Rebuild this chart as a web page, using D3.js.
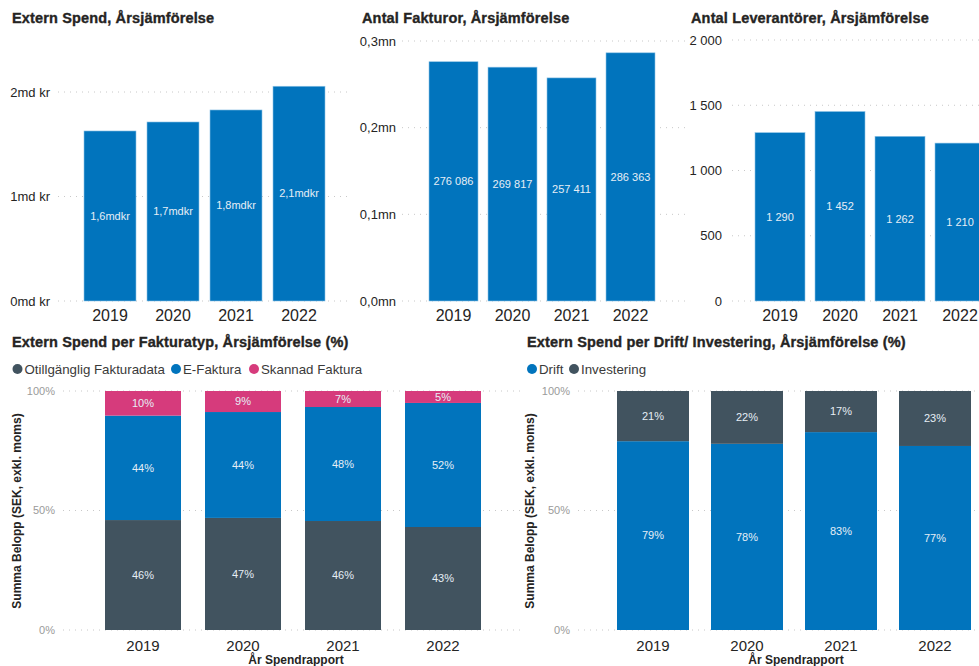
<!DOCTYPE html>
<html><head><meta charset="utf-8">
<script src="https://cdn.jsdelivr.net/npm/d3@7"></script>
<style>
body{margin:0;background:#fff;}
svg{display:block;font-family:"Liberation Sans",Arial,sans-serif;}
</style></head>
<body><svg id="c" width="979" height="666"></svg>
<script>
const years = ["2019","2020","2021","2022"];
const spendMd = [1.627, 1.713, 1.828, 2.055];
const spendTicks = [0, 1, 2];
const invoices = [276086, 269817, 257411, 286363];
const invoiceTicks = [0, 100000, 200000, 300000];
const suppliers = [1290, 1452, 1262, 1210];
const supplierTicks = [0, 500, 1000, 1500, 2000];
const invTypeNames = ["Otillgänglig Fakturadata","E-Faktura","Skannad Faktura"];
const invOtill = [46.0, 46.9, 45.6, 43.1];
const invE = [43.7, 44.3, 47.7, 51.9];
const invSkann = [10.3, 8.8, 6.7, 5.0];
const driftNames = ["Drift","Investering"];
const drift = [79.0, 77.9, 82.8, 77.0];
const invest = [21.0, 22.1, 17.2, 23.0];
const pctTicks = [0, 50, 100];

const BLUE="#0174BD", PINK="#D63B7C", SLATE="#41535F", TXT="#252423";
const loc = d3.formatLocale({decimal:",", thousands:"\u00a0", grouping:[3], currency:["","kr"]});
const fmtInt = loc.format(",d");
const fmt1 = loc.format(".1f");

const svg = d3.select("#c");

function title(x,y,t){
  svg.append("text").attr("x",x).attr("y",y).text(t)
    .attr("font-size",14.5).attr("font-weight","bold").attr("fill",TXT)
    .attr("stroke",TXT).attr("stroke-width",0.35)
    .attr("font-family","'Liberation Sans', Arial, sans-serif").style("letter-spacing","0.15px");
}
function grid(y, ticks, x0, x1, labX, fmt, col, fs){
  const g = svg.append("g");
  ticks.forEach(t=>{
    g.append("line").attr("x1",x0).attr("x2",x1).attr("y1",y(t)).attr("y2",y(t))
      .attr("stroke","#c8c8c8").attr("stroke-dasharray","1,5");
    g.append("text").attr("x",labX).attr("y",y(t)).attr("dy","0.35em").attr("text-anchor","end")
      .attr("font-size",fs).attr("fill",col).text(fmt(t));
  });
}
function simpleBar(opt){
  const y = d3.scaleLinear().domain(opt.domain).range([301, opt.topY]);
  const x = d3.scaleBand().domain(years).range(opt.xr).paddingInner(opt.p).paddingOuter(opt.p/2);
  grid(y, opt.ticks, opt.g0, opt.g1, opt.labX, opt.tfmt, TXT, 13);
  const g = svg.append("g");
  years.forEach((yr,i)=>{
    const v = opt.vals[i];
    g.append("rect").attr("x",x(yr)).attr("width",x.bandwidth()).attr("y",y(v)).attr("height",y(0)-y(v))
      .attr("fill",BLUE).attr("stroke","#8ec3e6").attr("stroke-width",0.6);
    g.append("text").attr("x",x(yr)+x.bandwidth()/2).attr("y",(y(v)+y(0))/2).attr("dy","0.35em")
      .attr("text-anchor","middle").attr("font-size",11).attr("fill","#e6eef6").text(opt.lfmt(v));
    g.append("text").attr("x",x(yr)+x.bandwidth()/2).attr("y",321).attr("text-anchor","middle")
      .attr("font-size",16).attr("fill",TXT).text(yr);
  });
}

// Chart 1
title(12,23,"Extern Spend, Årsjämförelse");
simpleBar({domain:[0,2], topY:92, ticks:spendTicks, xr:[78.5,330.5], p:11/63, g0:58, g1:350, labX:50,
  vals:spendMd, tfmt:t=>t+"md kr", lfmt:v=>fmt1(v)+"mdkr"});
// Chart 2
title(362,23,"Antal Fakturor, Årsjämförelse");
simpleBar({domain:[0,300000], topY:41, ticks:invoiceTicks, xr:[424,660], p:10/59, g0:402, g1:690, labX:396,
  vals:invoices, tfmt:t=>fmt1(t/1e6)+"mn", lfmt:v=>fmtInt(v)});
// Chart 3
title(691,23,"Antal Leverantörer, Årsjämförelse");
simpleBar({domain:[0,2000], topY:40, ticks:supplierTicks, xr:[750,990], p:10/60, g0:732, g1:979, labX:722,
  vals:suppliers, tfmt:t=>fmtInt(t), lfmt:v=>fmtInt(v)});

function legend(items, y){
  items.forEach(it=>{
    svg.append("circle").attr("cx",it.cx).attr("cy",y).attr("r",5).attr("fill",it.c);
    svg.append("text").attr("x",it.cx+7).attr("y",y).attr("dy","0.35em").attr("font-size",13.3)
      .attr("fill","#3a3a3a").text(it.t);
  });
}
function stacked(opt){
  const y = d3.scaleLinear().domain([0,100]).range([630,391]);
  const x = d3.scaleBand().domain(years).range(opt.xr).paddingInner(opt.p).paddingOuter(opt.p/2);
  grid(y, pctTicks, opt.g0, opt.g1, opt.labX, t=>t+"%", "#9a9a9a", 11);
  const g = svg.append("g");
  years.forEach((yr,i)=>{
    let base=0;
    opt.series.forEach(s=>{
      const v=s.vals[i];
      const y0=y(base), y1=y(base+v);
      g.append("rect").attr("x",x(yr)).attr("width",x.bandwidth()).attr("y",y1).attr("height",y0-y1)
        .attr("fill",s.c);
      g.append("text").attr("x",x(yr)+x.bandwidth()/2).attr("y",(y0+y1)/2).attr("dy","0.35em")
        .attr("text-anchor","middle").attr("font-size",11).attr("fill","#e6eef6").text(Math.round(v)+"%");
      base+=v;
    });
    g.append("text").attr("x",x(yr)+x.bandwidth()/2).attr("y",651).attr("text-anchor","middle")
      .attr("font-size",15).attr("fill",TXT).text(yr);
  });
  svg.append("text").attr("transform",`translate(${opt.yTitleX},511) rotate(-90)`).attr("text-anchor","middle")
    .attr("dy","0.35em").attr("font-size",12).attr("font-weight","bold").attr("fill",TXT)
    .text("Summa Belopp (SEK, exkl. moms)");
  svg.append("text").attr("x",opt.xTitleX).attr("y",664).attr("text-anchor","middle")
    .attr("font-size",12).attr("font-weight","bold").attr("fill",TXT).text("År Spendrapport");
}

// Chart 4
title(12,347,"Extern Spend per Fakturatyp, Årsjämförelse (%)");
legend([{cx:17.5,c:SLATE,t:invTypeNames[0]},{cx:176,c:BLUE,t:invTypeNames[1]},{cx:254,c:PINK,t:invTypeNames[2]}],369);
stacked({xr:[93,493], p:24/100, g0:63, g1:522, labX:55, yTitleX:17, xTitleX:296,
  series:[{vals:invOtill,c:SLATE},{vals:invE,c:BLUE},{vals:invSkann,c:PINK}]});
// Chart 5
title(527,347,"Extern Spend per Drift/ Investering, Årsjämförelse (%)");
legend([{cx:532,c:BLUE,t:driftNames[0]},{cx:574,c:SLATE,t:driftNames[1]}],369);
stacked({xr:[606,982], p:22/94, g0:578, g1:979, labX:570, yTitleX:530, xTitleX:796,
  series:[{vals:drift,c:BLUE},{vals:invest,c:SLATE}]});
</script></body></html>
